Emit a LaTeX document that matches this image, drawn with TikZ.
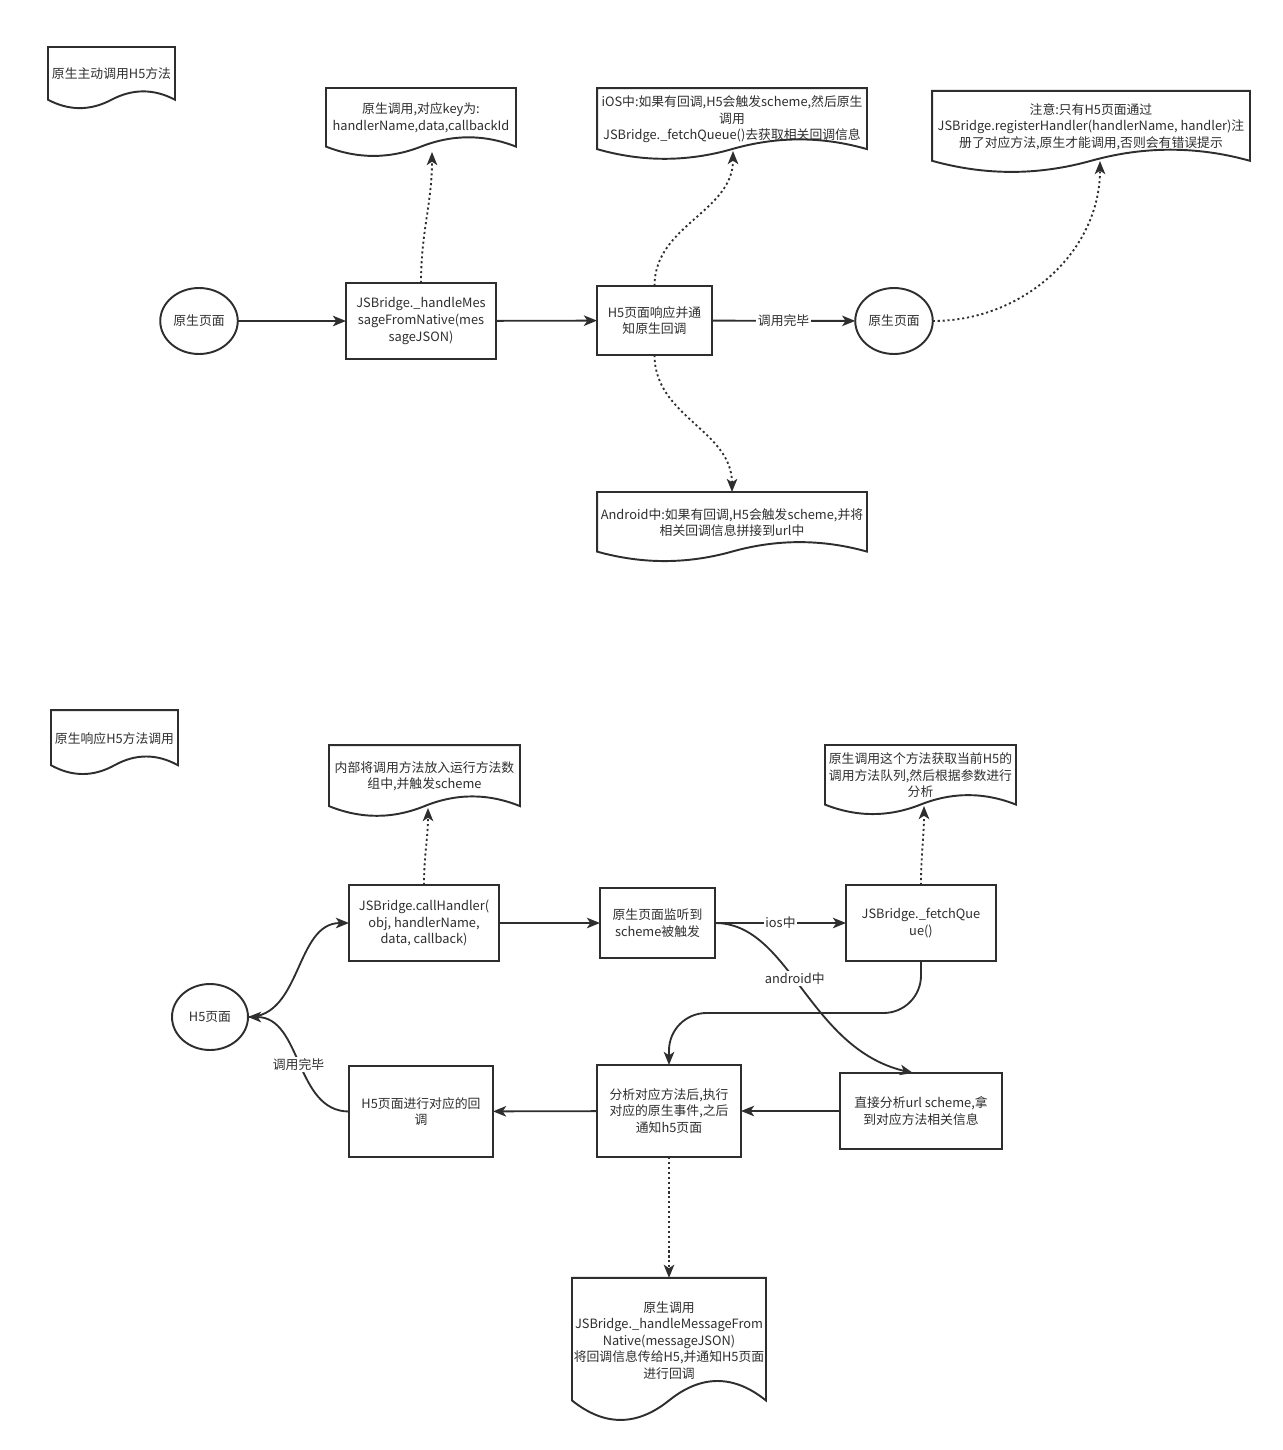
\documentclass[tikz,border=0pt]{standalone}
\usepackage{fontspec}
\setmainfont{Noto Sans CJK SC}
\usetikzlibrary{arrows.meta,positioning,calc,shapes.geometric}
\definecolor{ink}{HTML}{2E2E2E}

% outline of a document box round node #1 (wavy bottom)
\newcommand\docwave[1]{%
  \draw[wave] let \p1=(#1.north west), \p2=(#1.south east),
      \n1={\x2-\x1}, \n2={(\y1-\y2)/0.87} in
    (\p1) -- (\x2,\y1) -- (\x2,\y1-0.85*\n2)
    .. controls (\x1+0.8333*\n1,\y1-0.67*\n2) and (\x1+0.6667*\n1,\y1-0.67*\n2) .. (\x1+0.5*\n1,\y1-0.85*\n2)
    .. controls (\x1+0.3333*\n1,\y1-1.03*\n2) and (\x1+0.1667*\n1,\y1-1.03*\n2) .. (\x1,\y1-0.85*\n2)
    -- cycle;}

\begin{document}
\begin{tikzpicture}[x=0.02cm,y=-0.02cm,
    font=\fontsize{7.3pt}{9.4pt}\selectfont,
    every node/.style={text=ink,align=center,inner sep=1pt,outer sep=0pt},
    proc/.style 2 args={draw=ink,line width=1.1pt,minimum width=#1,minimum height=#2},
    term/.style={draw=ink,line width=1.1pt,ellipse,minimum width=1.52cm,minimum height=1.32cm},
    docnode/.style 2 args={minimum width=#1,minimum height=#2},
    wave/.style={draw=ink,line width=1.1pt},
    flow/.style={draw=ink,line width=1.05pt,-{Stealth[length=7.5pt,width=6pt,inset=2pt]}},
    hint/.style={flow,dash pattern=on 1.2pt off 1.6pt},
    tag/.style={fill=white,inner sep=1pt}]
  \useasboundingbox (0,0) rectangle (1283,1450);

  % first part
  \node[docnode={2.54cm}{1.08cm}] (dStart) at (111.5,74) {原生主动调用H5方法};
  \node[docnode={3.8cm}{1.2cm}] (dKeys) at (421,118) {原生调用,对应key为:\\handlerName,data,callbackId};
  \node[docnode={5.4cm}{1.25cm}] (dIos) at (732,119.3) {iOS中:如果有回调,H5会触发scheme,然后原生\\调用\\JSBridge.\_fetchQueue()去获取相关回调信息};
  \node[docnode={6.36cm}{1.43cm}] (dNote) at (1091,126.7) {注意:只有H5页面通过\\JSBridge.registerHandler(handlerName, handler)注\\册了对应方法,原生才能调用,否则会有错误提示};
  \node[docnode={5.4cm}{1.22cm}] (dAndroid) at (732,522.5) {Android中:如果有回调,H5会触发scheme,并将\\相关回调信息拼接到url中};
  \foreach \d in {dStart,dKeys,dIos,dNote,dAndroid} {\docwave{\d}}

  \node[term] (native1) at (199,321) {原生页面};
  \node[proc={3cm}{1.52cm}] (handleMsg) at (421,321) {JSBridge.\_handleMes\\sageFromNative(mes\\sageJSON)};
  \node[proc={2.3cm}{1.38cm}] (notify) at (654.5,320.5) {H5页面响应并通\\知原生回调};
  \node[term] (native2) at (894,321) {原生页面};

  \coordinate (tKeys) at (432,152);
  \coordinate (tIos) at (733,151);
  \coordinate (tNote) at (1100,161);

  \draw[flow] (native1) -- (handleMsg);
  \draw[flow] (handleMsg) -- (notify);
  \draw[flow] (notify) -- node[tag] {调用完毕} (native2);
  \draw[hint] (handleMsg.north) to[out=90,in=-90] (tKeys);
  \draw[hint] (notify.north) to[out=90,in=-90] (tIos);
  \draw[hint] (notify.south) to[out=-90,in=90] (dAndroid.north);
  \draw[hint] (native2.east) to[out=0,in=-90] (tNote);

  % second part
  \node[docnode={2.54cm}{1.13cm}] (dRespond) at (114.5,738.3) {原生响应H5方法调用};
  \node[docnode={3.82cm}{1.25cm}] (dQueue) at (424.5,776.3) {内部将调用方法放入运行方法数\\组中,并触发scheme};
  \node[docnode={3.82cm}{1.22cm}] (dFetch) at (920.5,775.5) {原生调用这个方法获取当前H5的\\调用方法队列,然后根据参数进行\\分析};
  \node[docnode={3.88cm}{2.51cm}] (dReply) at (669,1340.6) {原生调用\\JSBridge.\_handleMessageFrom\\Native(messageJSON)\\将回调信息传给H5,并通知H5页面\\进行回调};
  \foreach \d in {dRespond,dQueue,dFetch,dReply} {\docwave{\d}}

  \node[term] (h5page) at (210,1017) {H5页面};
  \node[proc={3cm}{1.52cm}] (callH) at (424,923) {JSBridge.callHandler(\\obj, handlerName,\\data, callback)};
  \node[proc={2.3cm}{1.4cm}] (listen) at (657.5,923) {原生页面监听到\\scheme被触发};
  \node[proc={3cm}{1.52cm}] (fetchQ) at (921,923) {JSBridge.\_fetchQue\\ue()};
  \node[proc={2.88cm}{1.84cm}] (analyse) at (669,1111) {分析对应方法后,执行\\对应的原生事件,之后\\通知h5页面};
  \node[proc={3.24cm}{1.52cm}] (parseUrl) at (921,1111) {直接分析url scheme,拿\\到对应方法相关信息};
  \node[proc={2.88cm}{1.82cm}] (callback) at (421,1111.5) {H5页面进行对应的回\\调};

  \coordinate (tQueue) at (428,808);
  \coordinate (tFetch) at (924,806);

  \draw[flow] (h5page.east) to[out=0,in=180] (callH.west);
  \draw[flow] (callH) -- (listen);
  \draw[flow] (listen) -- node[tag] {ios中} (fetchQ);
  \draw[flow] (listen.east) .. controls +(75,0) and +(-105,-25) .. ([xshift=-0.16cm]parseUrl.north)
    node[tag,pos=0.45] {android中};
  \draw[flow,rounded corners=0.75cm] (fetchQ.south) -- ++(0,52) -| (analyse.north);
  \draw[flow] (parseUrl) -- (analyse);
  \draw[flow] (analyse) -- (callback);
  \draw[flow] (callback.west) to[out=180,in=0] node[tag] {调用完毕} (h5page.east);
  \draw[hint] (callH.north) to[out=90,in=-90] (tQueue);
  \draw[hint] (fetchQ.north) to[out=90,in=-90] (tFetch);
  \draw[hint] (analyse) -- (dReply);
\end{tikzpicture}
\end{document}
